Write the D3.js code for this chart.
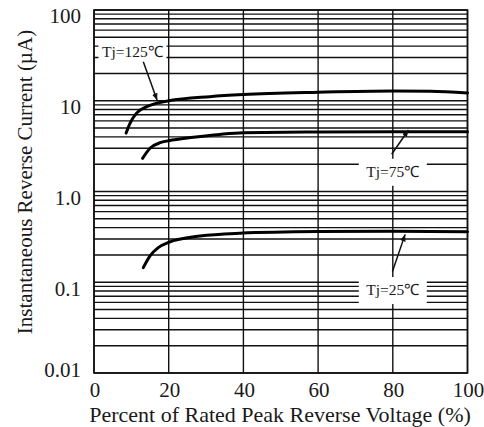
<!DOCTYPE html>
<html>
<head>
<meta charset="utf-8">
<script src="https://cdn.jsdelivr.net/npm/d3@7"></script>
<style>
  body { margin: 0; background: #fff; }
  text { font-family: "Liberation Serif", "Times New Roman", serif; fill: #1a1a1a; }
</style>
</head>
<body>
<svg id="chart" width="484" height="427"></svg>
<script>
// tick values and labels
const xTicks = [0, 20, 40, 60, 80, 100];
const yTicks = [0.01, 0.1, 1, 10, 100];
const yTickLabels = ["0.01", "0.1", "1.0", "10", "100"];

// Tj = 125 C
const pct125 = [8.6, 9.6, 11.4, 14.1, 16.8, 20, 31, 40, 60, 80, 90, 100];
const cur125 = [4.4, 5.6, 7.3, 8.6, 9.4, 10, 11.1, 11.7, 12.4, 12.8, 12.7, 12.2];
// Tj = 75 C
const pct75 = [13, 15, 17.7, 20, 26.6, 33.7, 40, 60, 80, 100];
const cur75 = [2.32, 3.0, 3.45, 3.63, 3.96, 4.26, 4.44, 4.52, 4.55, 4.55];
// Tj = 25 C
const pct25 = [13.2, 15, 17.2, 20, 28.4, 39, 60, 80, 100];
const cur25 = [0.145, 0.195, 0.241, 0.275, 0.323, 0.347, 0.362, 0.365, 0.36];

const seriesNames = ["Tj=125\u2103", "Tj=75\u2103", "Tj=25\u2103"];
// label centre and arrow (start -> tip) in data units
const labelAt = [[10.3, 34.7], [80, 1.65], [80, 0.082]];
const arrowFrom = [[13.2, 26.9], [79.7, 2.57], [79.9, 0.131]];
const arrowTo = [[16.9, 10.1], [84.2, 4.76], [83.3, 0.337]];

var svg = d3.select('#chart');
var padding = { t: 10, l: 94, w: 373.5, h: 363 };

var x = d3.scaleLinear().domain([0, 100]).range([padding.l, padding.l + padding.w]);
var y = d3.scaleLog().domain([0.01, 100]).range([padding.t + padding.h, padding.t]);

var defs = svg.append('defs');
defs.append('marker')
  .attr('id', 'head')
  .attr('viewBox', '0 0 10 10')
  .attr('refX', 10).attr('refY', 5)
  .attr('markerWidth', 7).attr('markerHeight', 7)
  .attr('markerUnits', 'userSpaceOnUse')
  .attr('orient', 'auto')
  .append('path')
  .attr('d', 'M0,1 L10,5 L0,9 Z')
  .attr('fill', '#111');

// grid
var grid = svg.append('g');
grid.selectAll('.hline')
  .data(y.ticks())
  .enter().append('line')
  .attr('x1', x(0)).attr('x2', x(100))
  .attr('y1', d => y(d)).attr('y2', d => y(d))
  .attr('stroke', '#111').attr('stroke-width', 1.4);
grid.selectAll('.vline')
  .data(xTicks)
  .enter().append('line')
  .attr('x1', d => x(d)).attr('x2', d => x(d))
  .attr('y1', y(0.01)).attr('y2', y(100))
  .attr('stroke', '#111').attr('stroke-width', 1.4);
svg.append('rect')
  .attr('x', x(0)).attr('y', y(100))
  .attr('width', x(100) - x(0)).attr('height', y(0.01) - y(100))
  .attr('fill', 'none').attr('stroke', '#111').attr('stroke-width', 1.6);

// tick labels
svg.append('g').selectAll('text')
  .data(xTicks)
  .enter().append('text')
  .attr('x', d => x(d) + 1)
  .attr('y', 397)
  .attr('text-anchor', 'middle')
  .attr('font-size', '21px')
  .text(d => d);

svg.append('g').selectAll('text')
  .data(yTicks)
  .enter().append('text')
  .attr('x', 81)
  .attr('y', d => Math.min(y(d) + 6, y(0.01) - 3))
  .attr('dy', '0.35em')
  .attr('text-anchor', 'end')
  .attr('font-size', '21px')
  .text((d, i) => yTickLabels[i]);

// axis titles
svg.append('text')
  .attr('x', 280).attr('y', 422)
  .attr('text-anchor', 'middle')
  .attr('font-size', '22px')
  .text('Percent of Rated Peak Reverse Voltage (%)');

svg.append('text')
  .attr('transform', 'translate(32,182) rotate(-90)')
  .attr('text-anchor', 'middle')
  .attr('font-size', '21px')
  .text('Instantaneous Reverse Current (\u00b5A)');

// curves
var line = d3.line()
  .x(d => x(d[0]))
  .y(d => y(d[1]))
  .curve(d3.curveMonotoneX);

var series = [
  d3.zip(pct125, cur125),
  d3.zip(pct75, cur75),
  d3.zip(pct25, cur25)
];

svg.append('g').selectAll('path')
  .data(series)
  .enter().append('path')
  .attr('d', line)
  .attr('fill', 'none')
  .attr('stroke', '#000')
  .attr('stroke-width', 3)
  .attr('stroke-linecap', 'round');

// annotations
var ann = svg.append('g');
seriesNames.forEach(function(name, i) {
  var cx = x(labelAt[i][0]), cy = y(labelAt[i][1]);
  ann.append('rect')
    .attr('x', cx - 34).attr('y', cy - 13)
    .attr('width', 68).attr('height', 27)
    .attr('fill', '#fff');
  ann.append('text')
    .attr('x', cx).attr('y', cy)
    .attr('dy', '0.35em')
    .attr('text-anchor', 'middle')
    .attr('font-size', '15.5px')
    .text(name);
  ann.append('line')
    .attr('x1', x(arrowFrom[i][0])).attr('y1', y(arrowFrom[i][1]))
    .attr('x2', x(arrowTo[i][0])).attr('y2', y(arrowTo[i][1]))
    .attr('stroke', '#111').attr('stroke-width', 1.5)
    .attr('marker-end', 'url(#head)');
});
</script>
</body>
</html>
